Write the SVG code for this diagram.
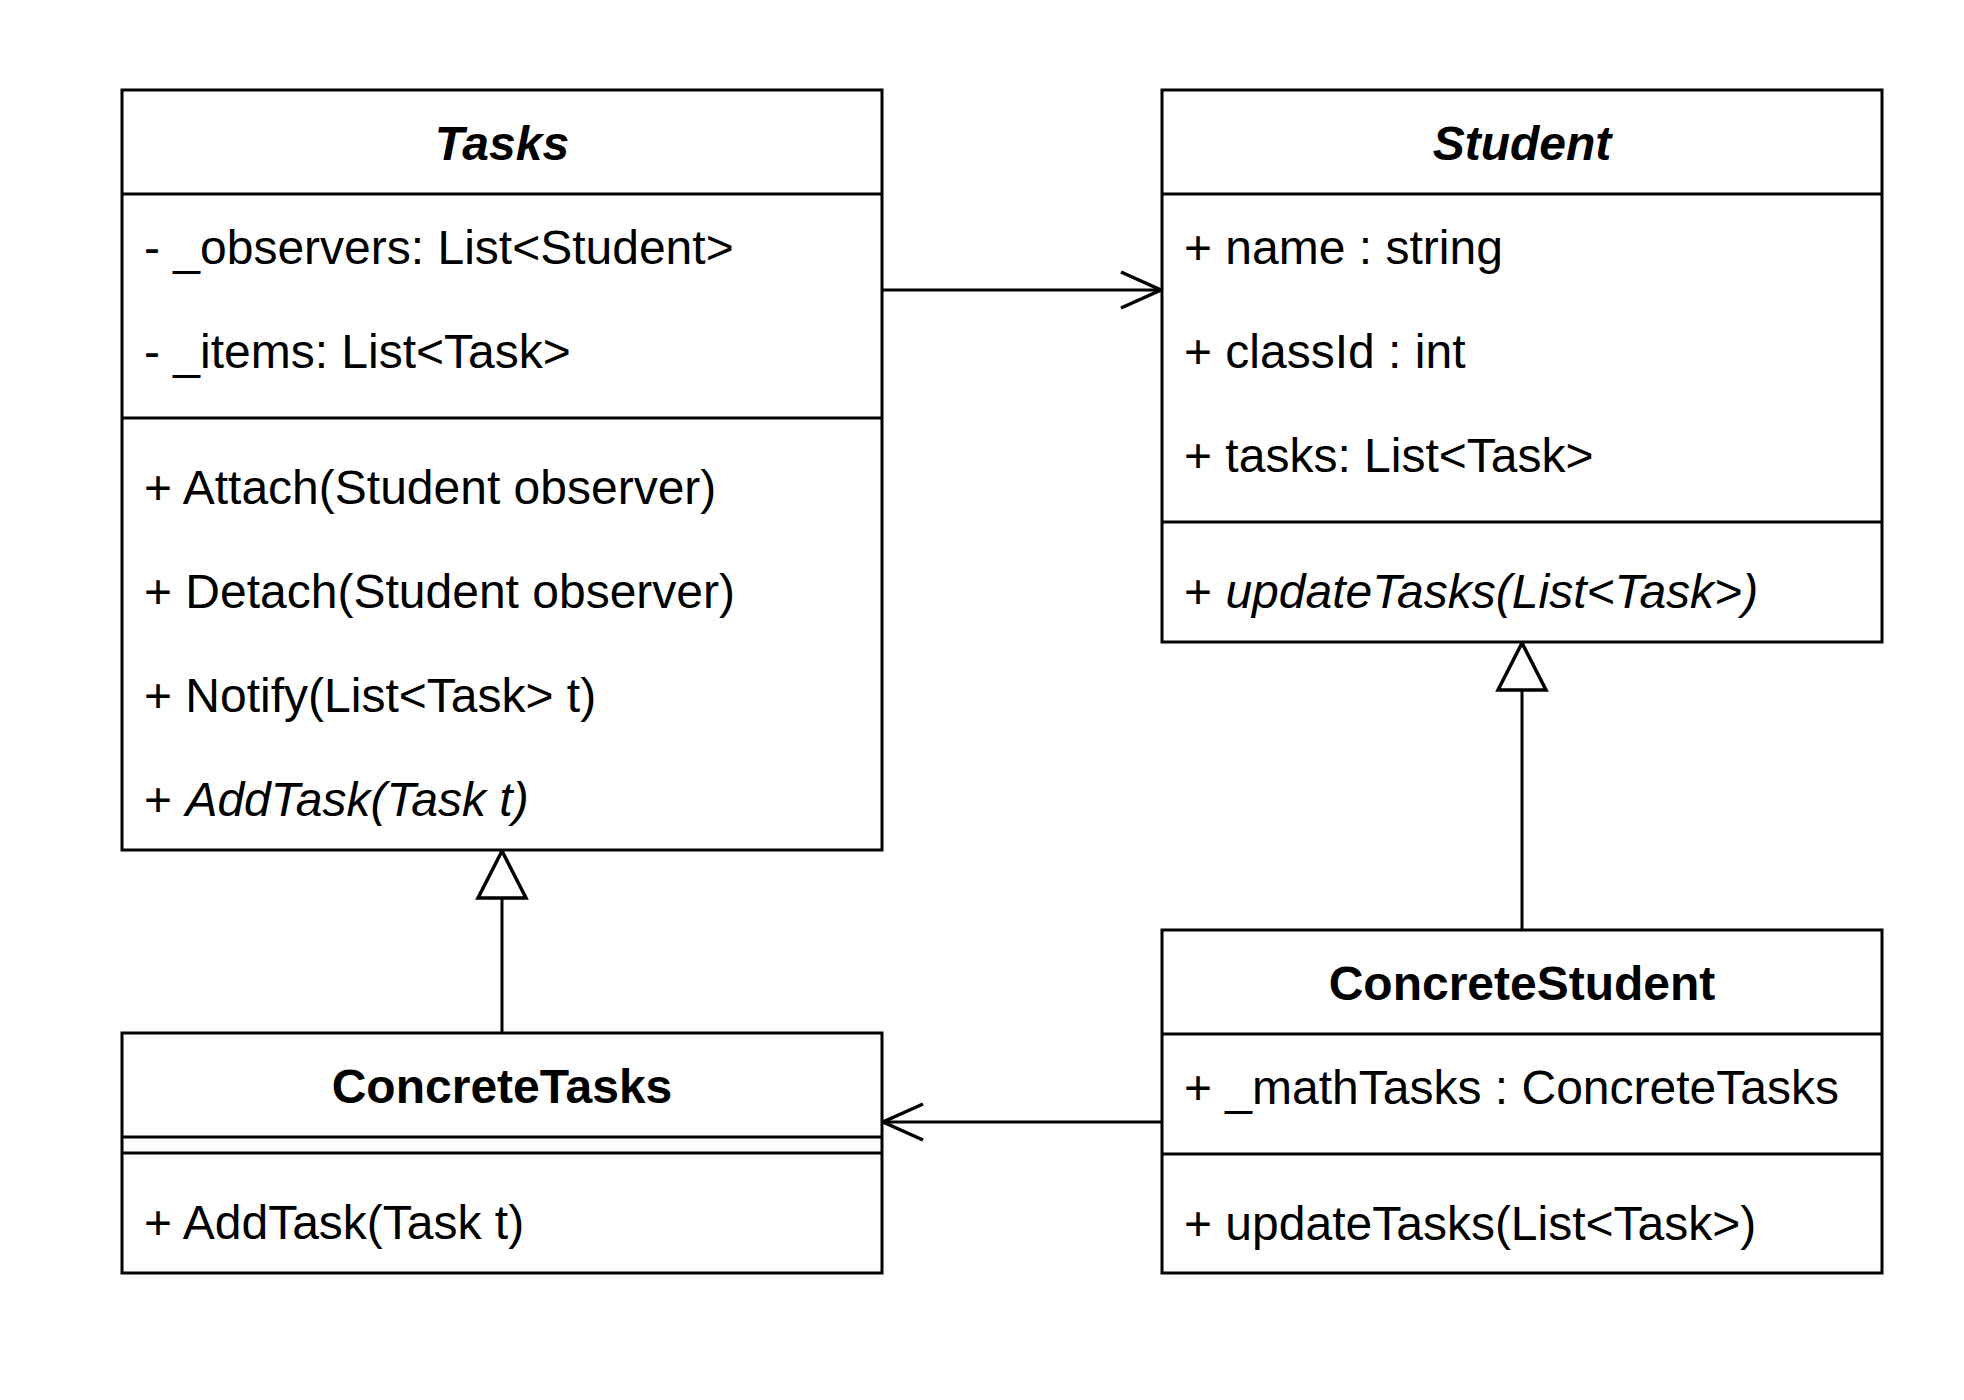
<svg xmlns="http://www.w3.org/2000/svg" width="1964" height="1400" viewBox="0 0 1964 1400">
<style>
.box{fill:#fff;stroke:#000;stroke-width:3}
.sep{stroke:#000;stroke-width:3;fill:none}
.t{font-family:"Liberation Sans",Arial,sans-serif;font-size:48px;fill:#000}
.title{font-family:"Liberation Sans",Arial,sans-serif;font-size:48px;font-weight:bold;fill:#000;text-anchor:middle}
.it{font-style:italic}
.edge{stroke:#000;stroke-width:3;fill:none}
</style>
<defs>
<marker id="open" markerUnits="userSpaceOnUse" viewBox="-44 -22 48 44" markerWidth="48" markerHeight="44" refX="0" refY="0" orient="auto" overflow="visible">
<path d="M-40,-18 L0,0 L-40,18" fill="none" stroke="#000" stroke-width="3.5"/>
</marker>
<marker id="tri" markerUnits="userSpaceOnUse" viewBox="-50 -28 54 56" markerWidth="54" markerHeight="56" refX="0" refY="0" orient="auto" overflow="visible">
<polygon points="0,0 -47,-24 -47,24" fill="#fff" stroke="#000" stroke-width="3.5"/>
</marker>
</defs>
<rect width="1964" height="1400" fill="#fff"/>
<g id="connectors">
<line class="edge" x1="882" y1="290" x2="1161" y2="290" marker-end="url(#open)"/>
<line class="edge" x1="1162" y1="1122" x2="883" y2="1122" marker-end="url(#open)"/>
<line class="edge" x1="502" y1="1033" x2="502" y2="851" marker-end="url(#tri)"/>
<line class="edge" x1="1522" y1="930" x2="1522" y2="643" marker-end="url(#tri)"/>
</g>
<g id="Tasks">
<rect class="box" x="122" y="90" width="760" height="760"/>
<line class="sep" x1="122" y1="194" x2="882" y2="194"/>
<line class="sep" x1="122" y1="418" x2="882" y2="418"/>
<text class="title it" x="502" y="160">Tasks</text>
<text class="t" x="144" y="264">- _observers: List&lt;Student&gt;</text>
<text class="t" x="144" y="368">- _items: List&lt;Task&gt;</text>
<text class="t" x="144" y="504">+ Attach(Student observer)</text>
<text class="t" x="144" y="608">+ Detach(Student observer)</text>
<text class="t" x="144" y="712">+ Notify(List&lt;Task&gt; t)</text>
<text class="t" x="144" y="816">+ <tspan class="it">AddTask(Task t)</tspan></text>
</g>
<g id="Student">
<rect class="box" x="1162" y="90" width="720" height="552"/>
<line class="sep" x1="1162" y1="194" x2="1882" y2="194"/>
<line class="sep" x1="1162" y1="522" x2="1882" y2="522"/>
<text class="title it" x="1522" y="160">Student</text>
<text class="t" x="1184" y="264">+ name : string</text>
<text class="t" x="1184" y="368">+ classId : int</text>
<text class="t" x="1184" y="472">+ tasks: List&lt;Task&gt;</text>
<text class="t" x="1184" y="608">+ <tspan class="it">updateTasks(List&lt;Task&gt;)</tspan></text>
</g>
<g id="ConcreteStudent">
<rect class="box" x="1162" y="930" width="720" height="343"/>
<line class="sep" x1="1162" y1="1034" x2="1882" y2="1034"/>
<line class="sep" x1="1162" y1="1154" x2="1882" y2="1154"/>
<text class="title" x="1522" y="1000">ConcreteStudent</text>
<text class="t" x="1184" y="1104">+ _mathTasks : ConcreteTasks</text>
<text class="t" x="1184" y="1240">+ updateTasks(List&lt;Task&gt;)</text>
</g>
<g id="ConcreteTasks">
<rect class="box" x="122" y="1033" width="760" height="240"/>
<line class="sep" x1="122" y1="1137" x2="882" y2="1137"/>
<line class="sep" x1="122" y1="1153" x2="882" y2="1153"/>
<text class="title" x="502" y="1103">ConcreteTasks</text>
<text class="t" x="144" y="1239">+ AddTask(Task t)</text>
</g>
</svg>
